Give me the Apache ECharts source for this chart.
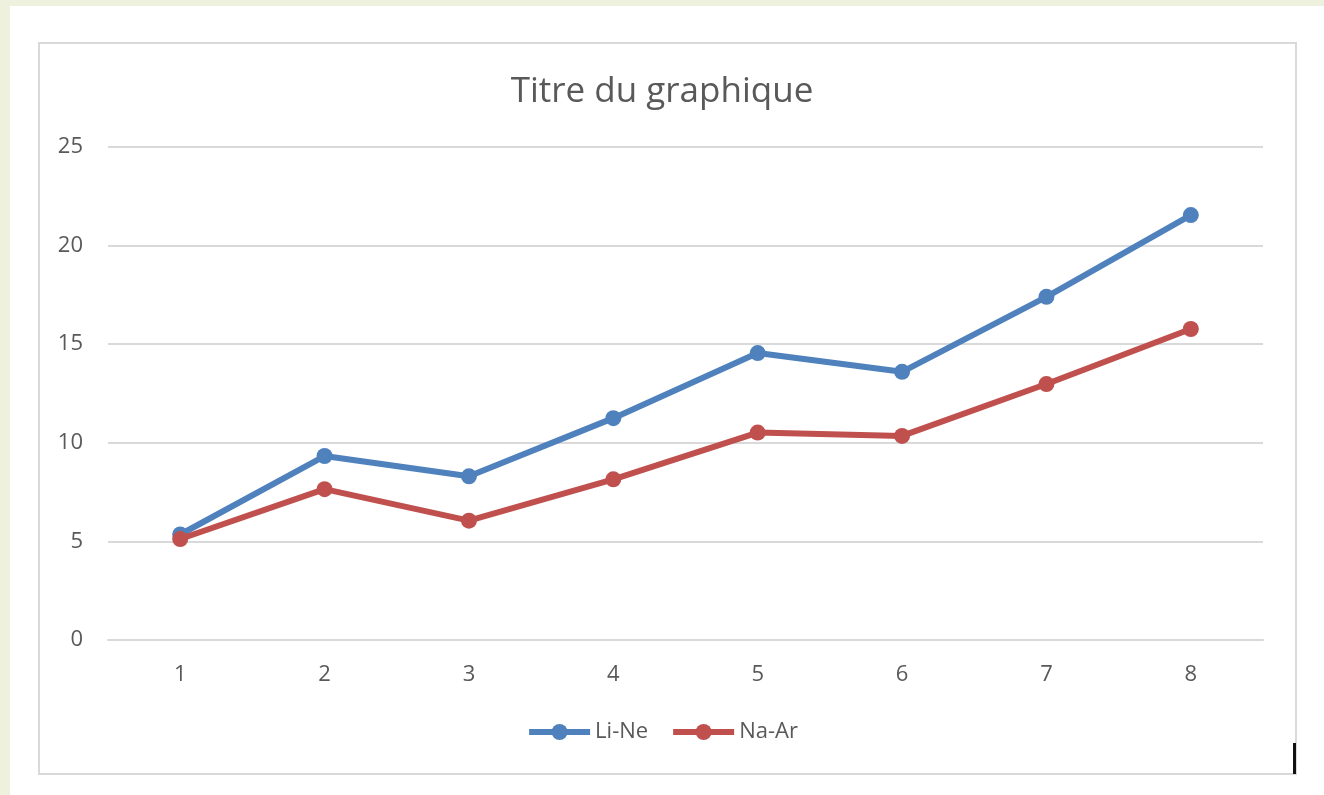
<!DOCTYPE html>
<html>
<head>
<meta charset="utf-8">
<script src="https://cdn.jsdelivr.net/npm/echarts@6/dist/echarts.min.js"></script>
<style>
  html, body { margin: 0; padding: 0; }
  body { width: 1324px; height: 795px; background: #edf1de; position: relative; overflow: hidden; }
  #sheet { position: absolute; left: 10px; top: 6px; right: 0; bottom: 0; background: #fff; }
  #frame { position: absolute; left: 38px; top: 42px; width: 1255px; height: 729px; border: 2px solid #d9d9d9; background: #fff; }
  #mark { position: absolute; left: 1293px; top: 743px; width: 3px; height: 31px; background: #111; }
  #chart { position: absolute; left: 0; top: 0; width: 1324px; height: 795px; }
</style>
</head>
<body>
<div id="sheet"></div>
<div id="frame"></div>
<div id="mark"></div>
<div id="chart"></div>
<script>
// categories and series
var categories = ['1', '2', '3', '4', '5', '6', '7', '8'];
var liNe = [5.35, 9.33, 8.3, 11.25, 14.55, 13.6, 17.4, 21.55];
var naAr = [5.12, 7.65, 6.05, 8.15, 10.52, 10.35, 12.98, 15.77];
var seriesNames = ['Li-Ne', 'Na-Ar'];

var chart = echarts.init(document.getElementById('chart'));
var txt = '#595959';
var font = 'Open Sans';

var option = {
    backgroundColor: 'transparent',
    title: {
        text: 'Titre du graphique',
        left: 'center',
        top: 70,
        textStyle: { color: txt, fontFamily: font, fontSize: 35, fontWeight: 'normal' }
    },
    legend: {
        data: seriesNames,
        top: 716,
        left: 'center',
        itemWidth: 61,
        itemHeight: 20,
        itemGap: 22,
        lineStyle: { width: 6 },
        textStyle: { color: txt, fontFamily: font, fontSize: 22 }
    },
    grid: { left: 108, right: 61, top: 147, bottom: 155, containLabel: false },
    xAxis: {
        type: 'category',
        data: categories,
        boundaryGap: true,
        axisLine: { lineStyle: { color: '#d9d9d9', width: 2 } },
        axisTick: { show: false },
        axisLabel: { color: txt, fontFamily: font, fontSize: 22, margin: 24 }
    },
    yAxis: {
        type: 'value',
        min: 0,
        max: 25,
        interval: 5,
        axisLine: { show: false },
        axisTick: { show: false },
        splitLine: { lineStyle: { color: '#d9d9d9', width: 2 } },
        axisLabel: { color: txt, fontFamily: font, fontSize: 22, margin: 25 }
    },
    series: [
        {
            name: seriesNames[0],
            type: 'line',
            data: liNe,
            symbol: 'circle',
            symbolSize: 16,
            color: '#4f81bd',
            lineStyle: { width: 6, color: '#4f81bd' },
            itemStyle: { color: '#4f81bd' },
            z: 3
        },
        {
            name: seriesNames[1],
            type: 'line',
            data: naAr,
            symbol: 'circle',
            symbolSize: 16,
            color: '#c0504d',
            lineStyle: { width: 6, color: '#c0504d' },
            itemStyle: { color: '#c0504d' },
            z: 4
        }
    ]
};
chart.setOption(option);
</script>
</body>
</html>
